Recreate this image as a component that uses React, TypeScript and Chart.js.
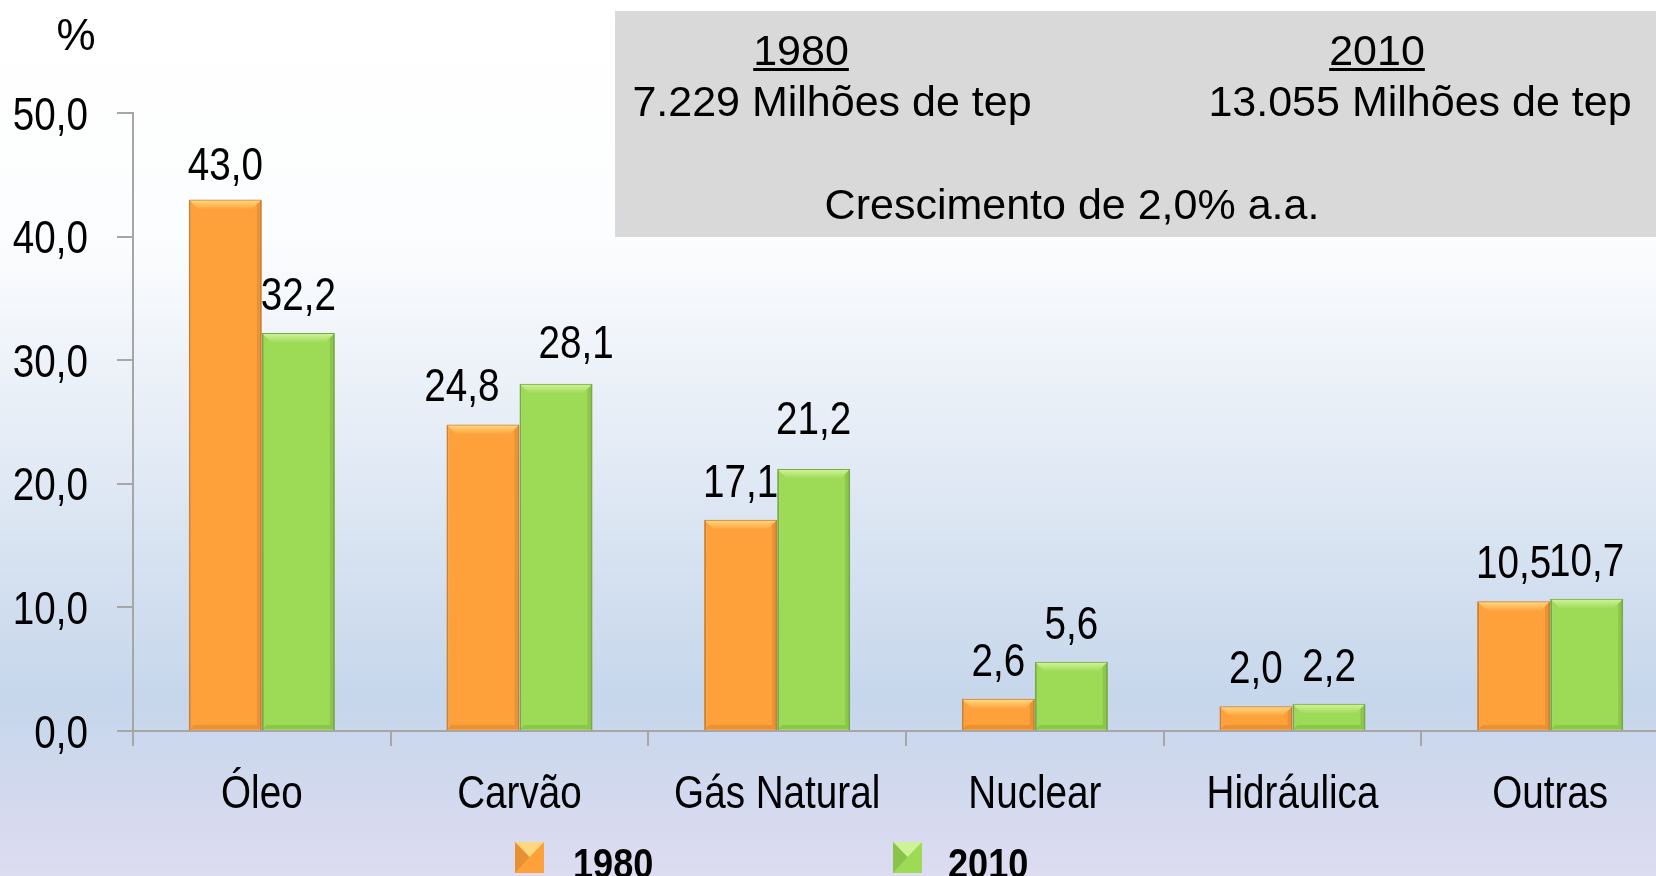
import React, { useEffect, useRef } from "react";
import { Chart, registerables } from "chart.js";

Chart.register(...registerables);

const categories = ["Óleo", "Carvão", "Gás Natural", "Nuclear", "Hidráulica", "Outras"];
const values1980 = [43.0, 24.8, 17.1, 2.6, 2.0, 10.5];
const values2010 = [32.2, 28.1, 21.2, 5.6, 2.2, 10.7];
const seriesNames = ["1980", "2010"];
const yTickValues = [0, 10, 20, 30, 40, 50];

const boxYears = ["1980", "2010"];
const boxTotals = ["7.229 Milhões de tep", "13.055 Milhões de tep"];
const boxGrowth = "Crescimento de 2,0% a.a.";
const unitLabel = "%";

// label nudges (styling only)
const nudgeX = [
  [0, -21, 0, 0, 0, 0],
  [0, 20, 0, 0, 0, 0],
];
const nudgeY = [
  [3, 0, 0, 0, 0, 0],
  [0, -3, -12, 0, 0, 0],
];

const SANS = "'Liberation Sans', Arial, sans-serif";
const SQUEEZE = 0.84;
const fmt = (v: number) => v.toFixed(1).replace(".", ",");

const ORANGE = "#ffa13b";
const ORANGE_B = "#d07f2c";
const ORANGE_HI = "#ffd77e";
const GREEN = "#9dda56";
const GREEN_B = "#76ac3f";
const GREEN_HI = "#cdf297";

function narrowText(ctx: CanvasRenderingContext2D, text: string, x: number, y: number, align: "left" | "center" | "right") {
  ctx.save();
  ctx.translate(x, y);
  ctx.scale(SQUEEZE, 1);
  ctx.textAlign = align;
  ctx.fillText(text, 0, 0);
  ctx.restore();
}

export default function App() {
  const ref = useRef<HTMLCanvasElement | null>(null);

  useEffect(() => {
    const canvas = ref.current;
    if (!canvas) return;

    const bgPlugin = {
      id: "bg",
      beforeDraw(chart: any) {
        const { ctx, width, height } = chart;
        ctx.save();
        const g = ctx.createLinearGradient(0, 0, 0, height);
        g.addColorStop(0, "#ffffff");
        g.addColorStop(0.27, "#fcfdfe");
        g.addColorStop(0.8, "#c6d6eb");
        g.addColorStop(1, "#dddcf1");
        ctx.fillStyle = g;
        ctx.fillRect(0, 0, width, height);
        ctx.restore();
      },
    };

    const overlayPlugin = {
      id: "overlay",
      afterDatasetsDraw(chart: any) {
        const ctx = chart.ctx as CanvasRenderingContext2D;
        ctx.save();
        // bevel highlights on bars
        const his = [ORANGE_HI, GREEN_HI];
        const bds = [ORANGE_B, GREEN_B];
        chart.data.datasets.forEach((_ds: any, di: number) => {
          const meta = chart.getDatasetMeta(di);
          meta.data.forEach((bar: any) => {
            const l = bar.x - bar.width / 2 + 1;
            const r = bar.x + bar.width / 2 - 1;
            const t = bar.y + 1;
            const b = bar.base - 1;
            const h = Math.min(9, (b - t) / 2);
            const g = ctx.createLinearGradient(0, t, 0, t + h);
            g.addColorStop(0, his[di]);
            g.addColorStop(1, di === 0 ? ORANGE : GREEN);
            ctx.fillStyle = g;
            ctx.beginPath();
            ctx.moveTo(l, t);
            ctx.lineTo(r, t);
            ctx.lineTo(r - h, t + h);
            ctx.lineTo(l + h, t + h);
            ctx.closePath();
            ctx.fill();
            ctx.globalAlpha = 0.45;
            ctx.fillStyle = bds[di];
            ctx.beginPath();
            ctx.moveTo(r, t);
            ctx.lineTo(r, b);
            ctx.lineTo(r - 4, b - 4);
            ctx.lineTo(r - 4, t + 4);
            ctx.closePath();
            ctx.fill();
            ctx.beginPath();
            ctx.moveTo(l, b);
            ctx.lineTo(r, b);
            ctx.lineTo(r - 4, b - 4);
            ctx.lineTo(l + 4, b - 4);
            ctx.closePath();
            ctx.fill();
            ctx.globalAlpha = 1;
          });
        });

        // data labels
        ctx.fillStyle = "#000";
        ctx.font = `46px ${SANS}`;
        ctx.textBaseline = "alphabetic";
        chart.data.datasets.forEach((ds: any, di: number) => {
          const meta = chart.getDatasetMeta(di);
          meta.data.forEach((bar: any, i: number) => {
            const x = bar.x + nudgeX[di][i];
            const y = bar.y - 23 + nudgeY[di][i];
            narrowText(ctx, fmt(ds.data[i]), x, y, "center");
          });
        });
        ctx.restore();
      },
      afterDraw(chart: any) {
        const ctx = chart.ctx as CanvasRenderingContext2D;
        ctx.save();
        ctx.fillStyle = "#000";

        // axis tick labels (condensed)
        ctx.font = `46px ${SANS}`;
        ctx.textBaseline = "alphabetic";
        const ys = chart.scales.y;
        ys.ticks.forEach((t: any) => {
          const py = ys.getPixelForValue(t.value);
          narrowText(ctx, fmt(t.value), 88, py + 16.5, "right");
        });
        const xs = chart.scales.x;
        categories.forEach((c, i) => {
          narrowText(ctx, c, xs.getPixelForValue(i), 808, "center");
        });

        // unit label
        ctx.font = `44px ${SANS}`;
        ctx.textAlign = "center";
        ctx.textBaseline = "middle";
        ctx.fillText(unitLabel, 76, 38);

        // info box
        ctx.fillStyle = "#d9d9d9";
        ctx.fillRect(615, 11, 1100, 226);
        ctx.fillStyle = "#000";
        ctx.font = `43px ${SANS}`;
        ctx.textBaseline = "alphabetic";
        const yearX = [801, 1377];
        const totX = [832, 1420];
        boxYears.forEach((t, i) => {
          ctx.fillText(t, yearX[i], 65);
          const w = ctx.measureText(t).width;
          ctx.fillRect(yearX[i] - w / 2, 68, w, 3);
          ctx.fillText(boxTotals[i], totX[i], 116);
        });
        ctx.fillText(boxGrowth, 1072, 219);

        // legend
        const colors = [ORANGE, GREEN];
        const highs = [ORANGE_HI, GREEN_HI];
        const borders = [ORANGE_B, GREEN_B];
        const iconX = [515, 893];
        const textX = [573, 948];
        ctx.font = `bold 43px ${SANS}`;
        seriesNames.forEach((n, i) => {
          const x0 = iconX[i];
          ctx.fillStyle = colors[i];
          ctx.fillRect(x0, 842, 29, 31);
          ctx.fillStyle = highs[i];
          ctx.beginPath();
          ctx.moveTo(x0, 842);
          ctx.lineTo(x0 + 29, 842);
          ctx.lineTo(x0 + 14.5, 857);
          ctx.closePath();
          ctx.fill();
          ctx.globalAlpha = 0.5;
          ctx.fillStyle = borders[i];
          ctx.beginPath();
          ctx.moveTo(x0, 842);
          ctx.lineTo(x0 + 14.5, 857);
          ctx.lineTo(x0, 873);
          ctx.closePath();
          ctx.fill();
          ctx.globalAlpha = 1;
          ctx.fillStyle = "#000";
          narrowText(ctx, n, textX[i], 878, "left");
        });
        ctx.restore();
      },
    };

    const chart = new Chart(canvas, {
      type: "bar",
      data: {
        labels: categories,
        datasets: [
          {
            label: seriesNames[0],
            data: values1980,
            backgroundColor: ORANGE,
            borderColor: ORANGE_B,
            borderWidth: 2,
            categoryPercentage: 0.567,
            barPercentage: 1,
          },
          {
            label: seriesNames[1],
            data: values2010,
            backgroundColor: GREEN,
            borderColor: GREEN_B,
            borderWidth: 2,
            categoryPercentage: 0.567,
            barPercentage: 1,
          },
        ],
      },
      options: {
        responsive: false,
        animation: false,
        layout: { padding: { top: 113, right: 21, left: 0, bottom: 0 } },
        plugins: {
          legend: { display: false },
          tooltip: { enabled: false },
        },
        scales: {
          x: {
            offset: true,
            grid: {
              offset: true,
              drawOnChartArea: false,
              drawTicks: true,
              tickLength: 15,
              color: "#a6a6a6",
              lineWidth: 2,
            },
            border: { color: "#a6a6a6", width: 2 },
            ticks: { display: false, autoSkip: false },
            afterFit: (scale: any) => {
              scale.height = 145;
            },
          },
          y: {
            min: 0,
            max: 50,
            afterBuildTicks: (scale: any) => {
              scale.ticks = yTickValues.map((v) => ({ value: v }));
            },
            grid: {
              drawOnChartArea: false,
              drawTicks: true,
              tickLength: 16,
              color: "#a6a6a6",
              lineWidth: 2,
            },
            border: { color: "#a6a6a6", width: 2 },
            ticks: { display: false },
            afterFit: (scale: any) => {
              scale.width = 133;
            },
          },
        },
      },
      plugins: [bgPlugin, overlayPlugin],
    });

    return () => chart.destroy();
  }, []);

  return (
    <div style={{ position: "fixed", left: 0, top: 0, width: 1656, height: 876, overflow: "hidden" }}>
      <canvas ref={ref} width={1700} height={876} style={{ display: "block", width: 1700, height: 876 }} />
    </div>
  );
}
